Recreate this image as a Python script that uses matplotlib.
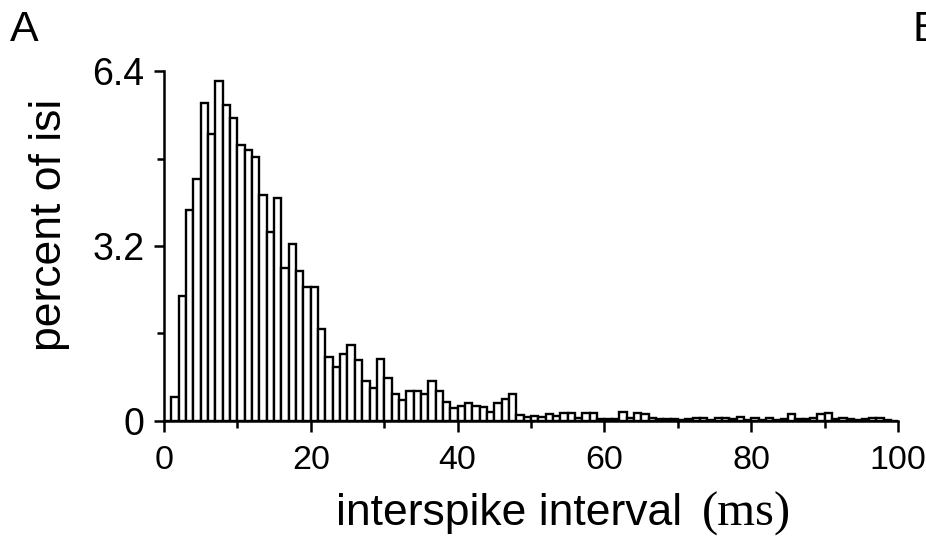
import numpy as np
from matplotlib import pyplot as plt
from matplotlib.ticker import MultipleLocator

# bin left edges (ms), 1 ms wide
bin_edges = np.arange(0, 100)

# percent of isi per bin
isi_percent = [
    0.00, 0.44, 2.29, 3.85, 4.43, 5.81, 5.24, 6.21, 5.78, 5.54,
    5.04, 4.95, 4.82, 4.14, 3.45, 4.07, 2.79, 3.24, 2.74, 2.45,
    2.45, 1.68, 1.17, 0.99, 1.23, 1.39, 1.11, 0.73, 0.60, 1.13,
    0.78, 0.50, 0.38, 0.55, 0.55, 0.50, 0.73, 0.55, 0.35, 0.23,
    0.27, 0.33, 0.27, 0.26, 0.17, 0.33, 0.40, 0.50, 0.11, 0.08,
    0.10, 0.08, 0.12, 0.10, 0.14, 0.15, 0.05, 0.14, 0.15, 0.04,
    0.03, 0.04, 0.16, 0.05, 0.14, 0.13, 0.05, 0.04, 0.04, 0.03,
    0.02, 0.03, 0.05, 0.06, 0.02, 0.05, 0.06, 0.03, 0.08, 0.02,
    0.06, 0.02, 0.06, 0.02, 0.03, 0.12, 0.03, 0.04, 0.05, 0.13,
    0.14, 0.04, 0.05, 0.03, 0.02, 0.04, 0.06, 0.06, 0.02, 0.00,
]

y_ticks = [0, 3.2, 6.4]
y_ticklabels = ["0", "3.2", "6.4"]
x_ticks = [0, 20, 40, 60, 80, 100]

plt.rcParams['font.family'] = ['Liberation Sans', 'DejaVu Sans']

fig = plt.figure(figsize=(9.26, 5.38), dpi=100)
ax = fig.add_axes([0.177, 0.2175, 0.793, 0.6505])

ax.bar(bin_edges, isi_percent, width=1.0, align='edge',
       facecolor='white', edgecolor='black', linewidth=1.7)

ax.set_xlim(0, 100)
ax.set_ylim(0, 6.4)
for side in ['top', 'right']:
    ax.spines[side].set_visible(False)
for side in ['left', 'bottom']:
    ax.spines[side].set_linewidth(1.8)

ax.set_xticks(x_ticks)
ax.set_xticklabels([str(t) for t in x_ticks])
ax.xaxis.set_minor_locator(MultipleLocator(10))
ax.set_yticks(y_ticks)
ax.set_yticklabels(y_ticklabels)
ax.yaxis.set_minor_locator(MultipleLocator(1.6))

ax.tick_params(axis='x', which='major', length=8, width=1.8, labelsize=24.5, pad=9)
ax.tick_params(axis='x', which='minor', length=5, width=1.8)
ax.tick_params(axis='y', which='major', length=7, width=1.8, labelsize=27, pad=7)
ax.tick_params(axis='y', which='minor', length=5, width=1.8)

fig.text(50 / 926, 1 - 225 / 538, 'percent of isi', fontsize=32,
         rotation=90, ha='center', va='center')

fig.text(509 / 926, 1 - 514 / 538, 'interspike interval', fontsize=32,
         ha='center', va='center')
fig.text(746 / 926, 1 - 514 / 538, '(ms)', fontsize=35,
         family=['Liberation Serif', 'DejaVu Serif'], ha='center', va='center')

fig.text(10 / 926, 1 - 30 / 538, 'A', fontsize=31, ha='left', va='center')
fig.text(912 / 926, 1 - 30 / 538, 'B', fontsize=31, ha='left', va='center')

fig.savefig('out.png', dpi=100)
